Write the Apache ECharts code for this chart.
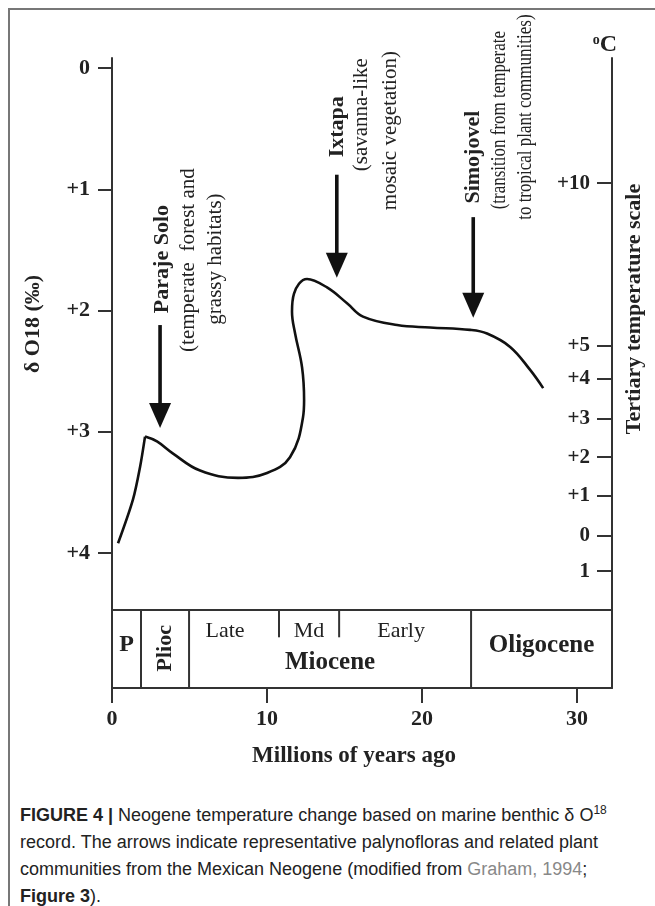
<!DOCTYPE html>
<html><head><meta charset="utf-8">
<script src="https://cdn.jsdelivr.net/npm/echarts@6/dist/echarts.min.js"></script>
<style>
html,body{margin:0;padding:0;background:#fff;width:655px;height:906px;overflow:hidden;}
#frame{position:absolute;left:8px;top:8px;width:700px;height:950px;border-left:2px solid #777;border-top:2px solid #777;box-sizing:border-box;z-index:5;pointer-events:none;}
#chart{position:absolute;left:0;top:0;width:655px;height:800px;}
#caption{position:absolute;left:20px;top:802px;width:630px;font-family:'Liberation Sans',Arial,sans-serif;font-size:18px;line-height:27px;color:#222;white-space:nowrap;}
#caption sup{font-size:12px;line-height:0;vertical-align:7px;}
#caption .ref{color:#888;}
</style></head>
<body>
<div id="chart"></div>
<div id="frame"></div>
<div id="caption">
<div><b>FIGURE 4 |</b> Neogene temperature change based on marine benthic δ O<sup>18</sup></div>
<div>record. The arrows indicate representative palynofloras and related plant</div>
<div>communities from the Mexican Neogene (modified from <span class="ref">Graham, 1994</span>;</div>
<div><b>Figure 3</b>).</div>
</div>
<script>
// ---- data ----
const xTicks = [0, 10, 20, 30];
const xMax = 32.25;
const d18Ticks = [0, 1, 2, 3, 4];
const d18Labels = ['0', '+1', '+2', '+3', '+4'];
const tempLabels = ['+10', '+5', '+4', '+3', '+2', '+1', '0', '1'];
const tempAtD18 = [0.95, 2.29, 2.56, 2.89, 3.21, 3.53, 3.86, 4.15];
const riseAge = [0.39, 1.35, 1.81, 2.13];
const riseD18 = [3.92, 3.56, 3.29, 3.04];
const curveAge = [2.13, 2.90, 3.94, 5.68, 8.13, 10.0, 11.48, 12.32, 12.39, 12.26, 11.81, 11.61, 11.74, 12.58, 13.87, 15.16, 16.19, 18.39, 20.52, 23.10, 24.19, 25.68, 26.97, 27.81];
const curveD18 = [3.04, 3.08, 3.18, 3.32, 3.38, 3.34, 3.21, 2.88, 2.74, 2.47, 2.19, 2.01, 1.86, 1.74, 1.81, 1.94, 2.05, 2.12, 2.14, 2.16, 2.19, 2.30, 2.49, 2.64];
const arrowAge = [3.1, 14.5, 23.3];
const arrowTop = [2.12, 0.88, 1.23];
const arrowTip = [2.97, 1.73, 2.06];
const arrowTitles = ['Paraje Solo', 'Ixtapa', 'Simojovel'];
const arrowNotes = [
  ['(temperate  forest and', 'grassy habitats)'],
  ['(savanna-like', 'mosaic vegetation)'],
  ['(transition from temperate', 'to tropical plant communities)']
];
const epochNames = ['P', 'Plioc', 'Miocene', 'Oligocene'];
const epochStart = [0, 1.87, 4.97, 23.16];
const epochEnd = [1.87, 4.97, 23.16, 32.25];
const stageNames = ['Late', 'Md', 'Early'];
const stageStart = [4.97, 10.77, 14.65];
const stageEnd = [10.77, 14.65, 23.16];

// ---- layout / style ----
const SERIF = "'Liberation Serif','Times New Roman',serif";
const INK = '#222';
const LINE = '#333';
const noteLayout = [
  {dx: [2, 28, 55], dy: [-66, -65, -66], title: 22, note: 21, squeeze: 1},
  {dx: [1, 25, 54], dy: [-48, -60, -44], title: 22, note: 21, squeeze: 1},
  {dx: [0, 27, 53], dy: [-60, -97, -100], title: 22, note: 20, squeeze: 0.85}
];
const epochLayout = {
  'P': {y: 0.55, rot: 0, bold: true, size: 24},
  'Plioc': {y: 0.51, rot: Math.PI / 2, bold: true, size: 22},
  'Miocene': {y: 0.32, rot: 0, bold: true, size: 25},
  'Oligocene': {y: 0.55, rot: 0, bold: true, size: 25}
};
const stageDx = {'Late': -9, 'Md': 0, 'Early': -4};

const chart = echarts.init(document.getElementById('chart'), null, {renderer: 'canvas'});

function vText(x, y, text, font, rot, sx) {
  return {type: 'text', x: x, y: y, rotation: rot, scaleX: sx || 1, style: {text: text, x: 0, y: 0, align: 'center', verticalAlign: 'middle', textAlign: 'center', textVerticalAlign: 'middle', font: font, fill: INK}};
}

const axisLine = {show: true, onZero: false, lineStyle: {color: LINE, width: 2}};
const yMin = -0.0825, yMax = 4.47;

const option = {
  animation: false,
  backgroundColor: 'transparent',
  grid: [
    {left: 112, right: 43, top: 58, height: 552},
    {left: 112, right: 43, top: 610, height: 78}
  ],
  xAxis: [
    {gridIndex: 0, type: 'value', min: 0, max: xMax, position: 'bottom', axisLine: axisLine, axisTick: {show: false}, axisLabel: {show: false}, splitLine: {show: false}},
    {gridIndex: 1, type: 'value', min: 0, max: xMax, interval: 10, position: 'bottom', axisLine: axisLine,
     axisTick: {show: true, length: 15, lineStyle: {color: LINE, width: 2}, customValues: xTicks},
     axisLabel: {show: true, margin: 20, customValues: xTicks, color: INK, fontFamily: SERIF, fontWeight: 'bold', fontSize: 22},
     splitLine: {show: false}}
  ],
  yAxis: [
    {gridIndex: 0, type: 'value', inverse: true, min: yMin, max: yMax, position: 'left', axisLine: axisLine,
     axisTick: {show: true, length: 14, lineStyle: {color: LINE, width: 2}, customValues: d18Ticks},
     axisLabel: {show: true, margin: 22, customValues: d18Ticks, color: INK, fontFamily: SERIF, fontWeight: 'bold', fontSize: 22,
       formatter: function (v) { const i = d18Ticks.findIndex(t => Math.abs(t - v) < 1e-6); return i >= 0 ? d18Labels[i] : ''; }},
     splitLine: {show: false}},
    {gridIndex: 0, type: 'value', inverse: true, min: yMin, max: yMax, position: 'right', axisLine: axisLine,
     axisTick: {show: true, inside: true, length: 15, lineStyle: {color: LINE, width: 2}, customValues: tempAtD18},
     axisLabel: {show: true, inside: true, margin: 22, customValues: tempAtD18, color: INK, fontFamily: SERIF, fontWeight: 'bold', fontSize: 21,
       formatter: function (v) { const i = tempAtD18.findIndex(t => Math.abs(t - v) < 1e-6); return i >= 0 ? tempLabels[i] : ''; }},
     splitLine: {show: false}},
    {gridIndex: 1, type: 'value', min: 0, max: 1, position: 'left', axisLine: axisLine, axisTick: {show: false}, axisLabel: {show: false}, splitLine: {show: false}},
    {gridIndex: 1, type: 'value', min: 0, max: 1, position: 'right', axisLine: axisLine, axisTick: {show: false}, axisLabel: {show: false}, splitLine: {show: false}}
  ],
  series: [
    {type: 'line', xAxisIndex: 0, yAxisIndex: 0, data: riseAge.map((a, i) => [a, riseD18[i]]), smooth: 0.3, symbol: 'none', lineStyle: {color: '#111', width: 2.6}},
    {type: 'line', xAxisIndex: 0, yAxisIndex: 0, data: curveAge.map((a, i) => [a, curveD18[i]]), smooth: 0.4, symbol: 'none', lineStyle: {color: '#111', width: 2.6}},
    {type: 'custom', xAxisIndex: 0, yAxisIndex: 0, data: arrowAge.map((a, i) => [a, arrowTop[i], arrowTip[i], i]),
     renderItem: function (params, api) {
       const i = api.value(3);
       const p1 = api.coord([api.value(0), api.value(1)]);
       const p2 = api.coord([api.value(0), api.value(2)]);
       const headL = 25, headW = 11;
       const lay = noteLayout[i];
       const children = [
         {type: 'line', shape: {x1: p1[0], y1: p1[1], x2: p2[0], y2: p2[1] - headL + 2}, style: {stroke: '#111', lineWidth: 3.6}},
         {type: 'polygon', shape: {points: [[p2[0], p2[1]], [p2[0] - headW, p2[1] - headL], [p2[0] + headW, p2[1] - headL]]}, style: {fill: '#111'}}
       ];
       children.push(vText(p1[0] + lay.dx[0], p1[1] + lay.dy[0], arrowTitles[i], 'bold ' + lay.title + 'px ' + SERIF, Math.PI / 2));
       arrowNotes[i].forEach(function (t, k) {
         children.push(vText(p1[0] + lay.dx[k + 1], p1[1] + lay.dy[k + 1], t, lay.note + 'px ' + SERIF, Math.PI / 2, lay.squeeze));
       });
       return {type: 'group', children: children};
     }},
    {type: 'custom', xAxisIndex: 1, yAxisIndex: 2, data: epochNames.map((n, i) => [epochStart[i], epochEnd[i], i]),
     renderItem: function (params, api) {
       const i = api.value(2);
       const name = epochNames[i];
       const L = epochLayout[name];
       const a = api.coord([api.value(0), 0]);
       const b = api.coord([api.value(1), 1]);
       const children = [];
       if (api.value(1) < xMax) {
         children.push({type: 'line', shape: {x1: b[0], y1: b[1], x2: b[0], y2: a[1]}, style: {stroke: LINE, lineWidth: 2}});
       }
       const c = api.coord([(api.value(0) + api.value(1)) / 2, L.y]);
       children.push(vText(c[0], c[1], name, (L.bold ? 'bold ' : '') + L.size + 'px ' + SERIF, L.rot));
       return {type: 'group', children: children};
     }},
    {type: 'custom', xAxisIndex: 1, yAxisIndex: 2, data: stageNames.map((n, i) => [stageStart[i], stageEnd[i], i]),
     renderItem: function (params, api) {
       const i = api.value(2);
       const name = stageNames[i];
       const top = api.coord([api.value(0), 1]);
       const low = api.coord([api.value(0), 0.65]);
       const children = [];
       if (i > 0) {
         children.push({type: 'line', shape: {x1: top[0], y1: top[1], x2: low[0], y2: low[1]}, style: {stroke: LINE, lineWidth: 2}});
       }
       const c = api.coord([(api.value(0) + api.value(1)) / 2, 0.73]);
       children.push(vText(c[0] + stageDx[name], c[1], name, '22px ' + SERIF, 0));
       return {type: 'group', children: children};
     }}
  ],
  graphic: [
    {type: 'text', x: 33, y: 324, rotation: Math.PI / 2, style: {text: 'δ O18 (‰)', x: 0, y: 0, align: 'center', verticalAlign: 'middle', font: 'bold 22px ' + SERIF, fill: INK}},
    {type: 'text', x: 634, y: 309, rotation: Math.PI / 2, style: {text: 'Tertiary temperature scale', x: 0, y: 0, align: 'center', verticalAlign: 'middle', font: 'bold 22px ' + SERIF, fill: INK}},
    {type: 'text', x: 605, y: 45, style: {text: '{s|o}C', x: 0, y: 0, align: 'center', verticalAlign: 'middle', font: 'bold 24px ' + SERIF, fill: INK,
      rich: {s: {font: 'bold 14px ' + SERIF, fill: INK, verticalAlign: 'top', padding: [0, 0, 10, 0]}}}},
    {type: 'text', x: 354, y: 756, style: {text: 'Millions of years ago', x: 0, y: 0, align: 'center', verticalAlign: 'middle', font: 'bold 23px ' + SERIF, fill: INK}}
  ]
};
chart.setOption(option);
</script>
</body></html>
